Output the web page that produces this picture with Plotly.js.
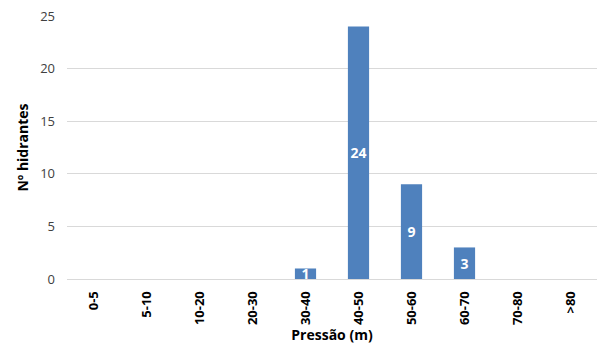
<!DOCTYPE html>
<html><head><meta charset="utf-8">
<script src="https://cdn.plot.ly/plotly-3.0.1.min.js"></script>
<style>body{margin:0;padding:0;}#chart{width:601px;height:356px;}</style>
</head><body><div id="chart"></div>
<script>
const categories = ["0-5","5-10","10-20","20-30","30-40","40-50","50-60","60-70","70-80",">80"];
const counts = [0,0,0,0,1,24,9,3,0,0];
const labels = counts.map(v => v > 0 ? String(v) : "");

const trace = {
  type: "bar",
  x: categories,
  y: counts,
  text: labels,
  textposition: "inside",
  insidetextanchor: "middle",
  textangle: 0,
  constraintext: "none",
  textfont: {family: "Open Sans, Liberation Sans, sans-serif", size: 14, color: "#ffffff", weight: "bold"},
  marker: {color: "#4f81bd", line: {color: "#ffffff", width: 0}},
  hoverinfo: "none"
};

const layout = {
  width: 601, height: 356,
  margin: {l: 67, r: 4, t: 16, b: 77},
  paper_bgcolor: "#ffffff", plot_bgcolor: "#ffffff",
  bargap: 0.6,
  showlegend: false,
  font: {family: "Open Sans, Liberation Sans, sans-serif", color: "#404040"},
  xaxis: {
    type: "category",
    tickangle: -90,
    tickfont: {size: 13, color: "#000000", weight: "bold"},
    ticklabelstandoff: 6,
    showgrid: false,
    showline: true, linecolor: "#d9d9d9", linewidth: 1,
    ticks: "", ticklen: 0,
    title: {text: "Pressão (m)", font: {size: 14, color: "#000000", weight: "bold"}, standoff: 6}
  },
  yaxis: {
    range: [0, 25],
    tickvals: [0,5,10,15,20,25],
    tickfont: {size: 13, color: "#404040"},
    ticklabelstandoff: 11,
    showgrid: true, gridcolor: "#d9d9d9", gridwidth: 1,
    zeroline: true, zerolinecolor: "#d9d9d9",
    showline: false,
    ticks: "", ticklen: 0,
    title: {text: "Nº hidrantes", font: {size: 14, color: "#000000", weight: "bold"}, standoff: 8}
  }
};

Plotly.newPlot("chart", [trace], layout, {staticPlot: true, displayModeBar: false});
</script></body></html>
